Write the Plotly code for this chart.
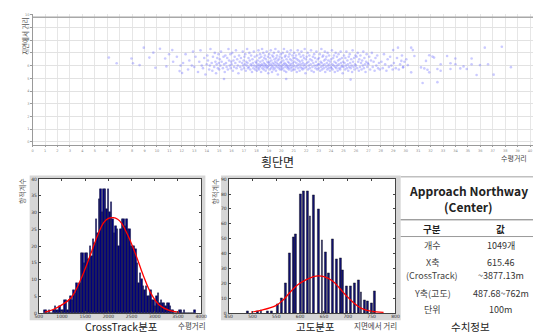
import plotly.graph_objects as go

W, H = 541, 333
def fx(px): return px / W
def fy(py): return 1 - py / H

FONT = "Noto Sans CJK KR"

# ---------------- data ----------------
# CrossTrack histogram (m): 100 bins from 615.46 m, width 32.617 m
ct_start = 615.46
ct_width = 32.617
ct_counts = [1, 1, 0, 1, 0, 0, 1, 2, 1, 1,
             2, 1, 1, 4, 4, 1, 4, 5, 4, 7,
             6, 9, 8, 9, 18, 18, 15, 18, 18, 16,
             20, 17, 22, 21, 28, 24, 34, 37, 30, 37,
             37, 31, 37, 30, 33, 28, 24, 26, 25, 20,
             25, 28, 28, 26, 28, 25, 25, 20, 20, 20,
             19, 15, 9, 12, 10, 8, 7, 8, 5, 5,
             7, 4, 4, 2, 5, 6, 3, 4, 3, 3,
             2, 3, 3, 2, 1, 1, 0, 0, 0, 1,
             1, 0, 1, 0, 0, 0, 0, 0, 0, 1]
ct_fit_x = [628, 800, 980, 1192, 1404, 1616, 1757, 1898, 2000, 2110, 2200, 2286, 2427, 2603, 2745, 2921, 3097, 3309, 3520]
ct_fit_y = [0.3, 1.0, 2.3, 4.5, 10.0, 17.5, 22.8, 27.0, 28.3, 28.5, 28.0, 26.8, 23.0, 17.0, 11.5, 5.8, 2.4, 0.8, 0.3]

# Altitude histogram (m)
alt_x = [490, 511, 518, 532, 540, 552, 561, 570, 578, 586, 591, 601, 608, 615, 621, 629, 638,
         646, 654, 660, 668, 676, 685, 689, 698, 706, 714, 722, 728, 735, 742, 750, 757]
alt_counts = [1, 1, 2, 1, 1, 6, 10, 20, 40, 51, 53, 80, 82, 82, 65, 79, 70,
              49, 41, 27, 50, 36, 37, 29, 18, 18, 20, 22, 14, 9, 8, 7, 15]
alt_fit_x = [497, 520, 549, 565, 579, 595, 613, 628, 638, 650, 668, 682, 696, 712, 730, 750, 775]
alt_fit_y = [0.7, 2, 5, 9, 14, 19, 22.5, 24.5, 25, 24.5, 21.5, 17, 12, 7, 3, 1.2, 0.5]

# Cross-section scatter (x: cross track, y: height above ground; unit 100 m)
track_points = [
 (6.13,6.63),(6.76,6.19),(7.95,6.56),(8.07,6.19),(8.60,6.04),(8.94,7.41),(9.39,6.63),(9.71,7.02),
 (9.87,5.83),(10.24,7.33),(10.66,6.56),(10.76,5.94),(10.97,6.89),(11.23,7.22),(11.82,5.57),(12.02,5.42),
 (15.39,4.95),(20.39,4.95),(25.57,4.90),(31.36,4.64),(35.70,5.26),(36.36,7.41),(38.46,5.88),(33.99,6.56),
 (34.65,5.94),(35.30,6.11),(32.15,6.71),(32.81,6.11),(33.60,5.73),(30.70,6.76),(28.99,7.22),(29.38,7.41),
 (30.44,7.41),(30.57,7.22),(31.89,6.81),(32.28,6.63),(33.33,6.76),(33.6,6.19),(34.0,6.11),(34.39,5.78),
 (34.91,5.73),(35.3,6.56),(35.97,6.04),(36.62,6.11),(37.07,5.29),(37.73,7.48),(32.55,4.70),(31.75,5.67),
 (31.5,5.78),(31.89,5.47),(31.23,5.86),(31.63,6.37),(32.55,5.73),(32.81,5.60),(30.44,5.47),(30.05,6.50),
 (29.65,6.37),(29.78,5.86),(30.17,6.04),
 (11.3,6.3),(11.6,6.7),(11.9,6.0),
 (12.1,6.2),(12.3,6.9),(12.5,5.7),(12.6,6.4),(12.8,6.0),(12.9,7.1),
 (13.0,5.9),(13.1,6.7),(13.3,5.5),(13.4,6.3),(13.5,7.2),(13.6,6.0),(13.7,5.8),(13.8,6.6),(13.9,5.3),
 (14.0,6.1),(14.05,6.8),(14.1,6.4),(14.2,5.7),(14.25,6.0),(14.3,7.3),(14.4,6.2),(14.45,5.6),(14.5,6.7),
 (14.6,5.9),(14.65,7.0),(14.7,6.3),(14.75,5.4),(14.8,6.1),(14.85,6.6),(14.9,5.8),(14.95,6.9),(14.98,6.2),
 (15.0,5.7),(15.05,6.5),(15.1,6.0),(15.15,7.1),(15.2,6.3),(15.3,5.8),(15.35,6.7),(15.4,6.1),(15.45,5.5),
 (15.5,6.8),(15.55,6.2),(15.6,5.9),(15.65,6.6),(15.7,5.7),(15.75,7.3),(15.8,6.4),(15.85,6.0),(15.9,6.9),
 (15.93,5.8),(15.97,6.3),
 (16.0,6.1),(16.05,7.0),(16.1,5.6),(16.15,6.4),(16.2,5.9),(16.25,6.7),(16.3,6.2),(16.35,7.2),(16.4,5.8),
 (16.45,6.5),(16.5,6.0),(16.55,5.4),(16.6,6.8),(16.65,6.3),(16.7,5.9),(16.75,6.6),(16.8,5.7),(16.85,6.2),
 (16.9,7.1),(16.93,6.0),(16.97,6.4),
 (17.0,5.8),(17.03,6.7),(17.07,6.1),(17.1,6.9),(17.14,5.6),(17.18,6.3),(17.21,6.0),(17.25,7.3),(17.28,6.2),
 (17.32,5.8),(17.36,6.6),(17.39,5.9),(17.43,7.0),(17.46,6.4),(17.5,5.7),(17.54,6.1),(17.57,6.8),(17.61,6.0),
 (17.64,5.5),(17.68,6.5),(17.71,6.2),(17.75,5.8),(17.79,7.1),(17.82,6.0),(17.86,6.7),(17.89,5.7),(17.93,6.3),
 (17.96,5.9),
 (18.0,6.2),(18.03,5.6),(18.05,6.8),(18.08,6.0),(18.1,6.4),(18.13,5.8),(18.16,7.2),(18.18,6.1),(18.21,5.7),
 (18.24,6.6),(18.26,5.9),(18.29,6.9),(18.31,6.3),(18.34,6.0),(18.37,5.5),(18.39,6.7),(18.42,6.1),(18.45,7.3),
 (18.47,5.8),(18.5,6.4),(18.53,6.0),(18.55,7.0),(18.58,5.7),(18.6,6.2),(18.63,6.6),(18.66,5.9),(18.68,6.8),
 (18.71,6.1),(18.74,5.6),(18.76,6.5),(18.79,6.0),(18.82,7.1),(18.84,5.8),(18.87,6.3),(18.89,5.9),(18.92,6.7),
 (18.95,5.4),(18.97,6.2),
 (19.0,6.0),(19.02,6.9),(19.05,6.3),(19.07,5.7),(19.1,6.6),(19.12,6.1),(19.15,7.2),(19.17,5.8),(19.2,6.4),
 (19.22,6.0),(19.25,5.5),(19.27,6.8),(19.3,6.2),(19.32,5.9),(19.35,6.7),(19.37,5.7),(19.4,7.0),(19.42,6.1),
 (19.45,6.5),(19.47,5.8),(19.5,6.3),(19.52,7.3),(19.55,6.0),(19.57,5.6),(19.6,6.6),(19.62,6.2),(19.65,6.8),
 (19.67,5.9),(19.7,6.4),(19.72,5.3),(19.75,6.1),(19.77,7.1),(19.8,5.8),(19.82,6.5),(19.85,6.0),(19.87,6.7),
 (19.9,5.7),(19.92,6.2),(19.95,6.9),(19.97,5.9),
 (20.0,6.3),(20.03,5.7),(20.05,6.6),(20.08,6.0),(20.11,7.0),(20.13,5.8),(20.16,6.4),(20.18,6.1),(20.21,7.3),
 (20.24,5.6),(20.26,6.2),(20.29,6.7),(20.32,5.9),(20.34,6.8),(20.37,6.1),(20.39,5.5),(20.42,6.5),(20.45,6.0),
 (20.47,7.1),(20.5,5.8),(20.53,6.3),(20.55,5.9),(20.58,6.7),(20.61,5.7),(20.63,6.2),(20.66,6.9),(20.68,6.0),
 (20.71,6.5),(20.74,5.8),(20.76,7.2),(20.79,6.1),(20.82,5.6),(20.84,6.4),(20.87,5.9),(20.89,6.8),(20.92,6.2),
 (20.95,5.7),(20.97,6.6),
 (21.0,6.0),(21.03,7.0),(21.06,6.3),(21.09,5.7),(21.12,6.6),(21.15,5.9),(21.18,6.8),(21.21,6.2),(21.24,5.5),
 (21.26,6.5),(21.29,6.0),(21.32,7.2),(21.35,5.8),(21.38,6.4),(21.41,6.1),(21.44,6.9),(21.47,5.6),(21.5,6.3),
 (21.53,5.9),(21.56,6.7),(21.59,6.1),(21.62,7.1),(21.65,5.8),(21.68,6.4),(21.71,5.7),(21.74,6.2),(21.76,6.8),
 (21.79,6.0),(21.82,6.6),(21.85,5.8),(21.88,7.3),(21.91,6.1),(21.94,5.4),(21.97,6.5),
 (22.0,5.9),(22.04,6.7),(22.07,6.2),(22.11,7.0),(22.14,5.7),(22.18,6.3),(22.21,6.0),(22.25,6.8),(22.29,5.8),
 (22.32,6.5),(22.36,6.1),(22.39,7.2),(22.43,5.6),(22.46,6.4),(22.5,5.9),(22.54,6.7),(22.57,6.2),(22.61,5.5),
 (22.64,6.9),(22.68,6.0),(22.71,6.6),(22.75,5.8),(22.79,6.3),(22.82,7.1),(22.86,6.0),(22.89,5.7),(22.93,6.5),
 (22.96,6.1),
 (23.0,5.8),(23.03,6.6),(23.06,6.1),(23.09,6.9),(23.12,5.6),(23.16,6.3),(23.19,5.9),(23.22,7.3),(23.25,6.2),
 (23.28,5.7),(23.31,6.7),(23.34,6.0),(23.37,6.8),(23.41,5.8),(23.44,6.4),(23.47,6.1),(23.5,7.1),(23.53,5.5),
 (23.56,6.5),(23.59,5.9),(23.62,6.7),(23.66,6.2),(23.69,5.7),(23.72,7.0),(23.75,6.0),(23.78,6.4),(23.81,5.8),
 (23.84,6.8),(23.87,6.1),(23.91,5.6),(23.94,6.3),(23.97,5.9),
 (24.0,6.5),(24.03,5.8),(24.07,7.2),(24.1,6.1),(24.13,5.7),(24.17,6.6),(24.2,6.0),(24.23,6.8),(24.27,6.3),
 (24.3,5.5),(24.33,5.9),(24.37,7.0),(24.4,6.2),(24.43,5.8),(24.47,6.7),(24.5,6.0),(24.53,5.6),(24.57,6.4),
 (24.6,6.9),(24.63,6.1),(24.67,5.8),(24.7,6.5),(24.73,5.7),(24.77,7.1),(24.8,6.2),(24.83,5.9),(24.87,6.6),
 (24.9,6.0),(24.93,5.4),(24.97,6.3),
 (25.0,5.9),(25.04,6.8),(25.08,6.2),(25.12,5.7),(25.15,6.6),(25.19,6.0),(25.23,7.1),(25.27,5.8),(25.31,6.4),
 (25.35,6.1),(25.38,5.6),(25.42,6.7),(25.46,5.9),(25.5,6.9),(25.54,6.2),(25.58,5.8),(25.62,6.5),(25.65,6.0),
 (25.69,5.5),(25.73,7.2),(25.77,6.3),(25.81,5.9),(25.85,6.6),(25.88,5.7),(25.92,6.1),(25.96,6.8),
 (26.0,6.0),(26.05,6.7),(26.09,5.8),(26.14,7.0),(26.18,6.3),(26.23,5.6),(26.27,6.5),(26.32,5.9),(26.36,6.8),
 (26.41,6.2),(26.45,5.7),(26.5,6.4),(26.55,6.0),(26.59,7.1),(26.64,5.8),(26.68,6.6),(26.73,6.1),(26.77,5.5),
 (26.82,6.3),(26.86,6.9),(26.91,5.9),(26.95,6.2),
 (27.0,6.1),(27.07,6.7),(27.14,5.7),(27.21,6.4),(27.28,7.0),(27.35,5.9),(27.42,6.3),(27.5,5.6),(27.57,6.6),
 (27.64,6.0),(27.71,6.8),(27.78,5.8),(27.85,6.2),(27.92,5.7),
 (28.05,6.3),(28.15,5.8),(28.25,6.9),(28.35,6.1),(28.45,5.6),(28.55,6.5),(28.65,5.9),(28.75,6.7),(28.85,6.0),
 (28.95,5.7),
 (29.05,6.2),(29.2,5.8),(29.3,6.6),(29.45,5.7),(29.55,6.1),(29.7,6.8),(29.8,5.9),(29.9,6.3),
]
scatter_x = [p[0] for p in track_points]
scatter_y = [p[1] for p in track_points]

top_xticks = list(range(0, 41))
top_yticks = list(range(0, 11))

# ---------------- figure ----------------
fig = go.Figure()

fig.add_trace(go.Scatter(
    x=scatter_x, y=scatter_y, mode="markers",
    marker=dict(size=2.6, color="rgba(90,90,255,0.32)", line=dict(width=0)),
    xaxis="x", yaxis="y", hoverinfo="skip"))

fig.add_trace(go.Bar(
    x0=ct_start + ct_width / 2, dx=ct_width, y=ct_counts, width=ct_width,
    marker=dict(color="#000080", line=dict(color="#15153a", width=0.5)),
    xaxis="x2", yaxis="y2"))
fig.add_trace(go.Scatter(
    x=ct_fit_x, y=ct_fit_y, mode="lines",
    line=dict(color="#ff0000", width=1.3, shape="spline"),
    xaxis="x2", yaxis="y2"))

fig.add_trace(go.Bar(
    x=alt_x, y=alt_counts, width=3.8,
    marker=dict(color="#101070", line=dict(color="#000000", width=0.4)),
    xaxis="x3", yaxis="y3"))
fig.add_trace(go.Scatter(
    x=alt_fit_x, y=alt_fit_y, mode="lines",
    line=dict(color="#ff0000", width=1.3, shape="spline"),
    xaxis="x3", yaxis="y3"))

tickf = dict(family="DejaVu Sans", size=3.5, color="#888888")
hist_tickf = dict(family="DejaVu Sans", size=4.5, color="#333333")

shapes = []
# gray frames of the histogram panels
for (x0, x1) in [(18, 197), (213, 396)]:
    shapes.append(dict(type="rect", xref="paper", yref="paper",
                       x0=fx(x0), x1=fx(x1), y0=fy(315), y1=fy(168),
                       fillcolor="#d6d6d6", line=dict(width=0), layer="below"))
for (x0, x1) in [(27.3, 192.7), (220.7, 390.7)]:
    shapes.append(dict(type="rect", xref="paper", yref="paper",
                       x0=fx(x0), x1=fx(x1), y0=fy(307.7), y1=fy(171.7),
                       fillcolor="white", line=dict(width=0), layer="below"))
# top border line of the cross-section chart
shapes.append(dict(type="line", xref="paper", yref="paper", x0=fx(21), x1=1,
                   y0=fy(7.3), y1=fy(7.3), line=dict(color="#a8a8a8", width=1.5)))
# table lines
shapes.append(dict(type="line", xref="paper", yref="paper", x0=fx(396), x1=1,
                   y0=fy(169.3), y1=fy(169.3), line=dict(color="#c0c0c0", width=1.5)))
shapes.append(dict(type="line", xref="paper", yref="paper", x0=fx(396), x1=1,
                   y0=fy(213), y1=fy(213), line=dict(color="#777777", width=1)))
shapes.append(dict(type="line", xref="paper", yref="paper", x0=fx(396), x1=1,
                   y0=fy(230), y1=fy(230), line=dict(color="#999999", width=1)))

ann = []
def txt(t, px, py, size, color="#333333", bold=False, angle=0, xanchor="center"):
    ann.append(dict(text=("<b>%s</b>" % t) if bold else t, x=fx(px), y=fy(py),
                    xref="paper", yref="paper", showarrow=False, xanchor=xanchor,
                    yanchor="middle", textangle=angle, borderpad=0,
                    font=dict(family=FONT, size=size, color=color)))

txt("횡단면", 270, 153.5, 12, "#222222")
txt("수평거리", 511, 150, 7, "#444444")
txt("지면에서 거리", 12.5, 27, 6.5, "#555555", angle=-90)
txt("항적계수", 10, 184, 7, "#555555", angle=-90)
txt("항적계수", 207, 184, 7, "#555555", angle=-90)
txt("CrossTrack분포", 112, 321, 10.5, "#222222")
txt("수평거리", 183, 320.5, 7.5, "#444444")
txt("고도분포", 309, 321, 10.5, "#222222")
txt("지면에서 거리", 370, 320.5, 7.5, "#444444")
txt("수치정보", 467, 321, 10.5, "#222222")

txt("Approach Northway", 465, 183, 12, "#222222", bold=True)
txt("(Center)", 465, 200, 12, "#222222", bold=True)
txt("구분", 428, 222, 9.5, "#222222", bold=True)
txt("값", 498, 222, 9.5, "#222222", bold=True)
txt("개수", 428, 239, 9, "#444444")
txt("1049개", 498, 239, 9, "#333333")
txt("X축", 428, 256, 9, "#444444")
txt("(CrossTrack)", 428, 270, 9, "#444444")
txt("615.46", 498, 256, 9, "#333333")
txt("~3877.13m", 498, 270, 9, "#333333")
txt("Y축(고도)", 428, 288, 9, "#444444")
txt("487.68~762m", 498, 288, 9, "#333333")
txt("단위", 428, 304, 9, "#444444")
txt("100m", 498, 304, 9, "#333333")

hist_axis = dict(showgrid=False, zeroline=False, showline=True, linecolor="#444444",
                 linewidth=1, mirror="ticks", ticks="inside", ticklen=2,
                 tickcolor="#444444", tickfont=hist_tickf)

fig.update_layout(
    width=W, height=H, margin=dict(l=0, r=0, t=0, b=0),
    paper_bgcolor="white", plot_bgcolor="white",
    showlegend=False, bargap=0,
    shapes=shapes, annotations=ann,
    xaxis=dict(domain=[fx(21), 1.0], range=[0, 41.04], tickvals=top_xticks,
               showgrid=True, gridcolor="#e6e6e6", gridwidth=1.3, zeroline=False,
               showline=True, linecolor="#9a9a9a", ticks="outside", ticklen=1.5,
               tickcolor="#9a9a9a", tickfont=tickf),
    yaxis=dict(domain=[fy(137), fy(4)], range=[-0.232, 10.06], tickvals=top_yticks,
               showgrid=True, gridcolor="#e2e2e2", gridwidth=1, zeroline=False,
               showline=True, linecolor="#9a9a9a", ticks="outside", ticklen=1.5,
               tickcolor="#9a9a9a", tickfont=tickf),
    xaxis2=dict(domain=[fx(27.3), fx(192.7)], range=[500, 4000], dtick=500, anchor="y2",
                ticklabelstandoff=-1, **hist_axis),
    yaxis2=dict(domain=[fy(307.7), fy(171.7)], range=[0, 40], dtick=5, anchor="x2", **hist_axis),
    xaxis3=dict(domain=[fx(220.7), fx(390.7)], range=[450, 800], dtick=50, anchor="y3",
                ticklabelstandoff=-1, **hist_axis),
    yaxis3=dict(domain=[fy(307.7), fy(171.7)], range=[0, 90], dtick=10, anchor="x3", **hist_axis),
)

fig.write_html("out.html")
